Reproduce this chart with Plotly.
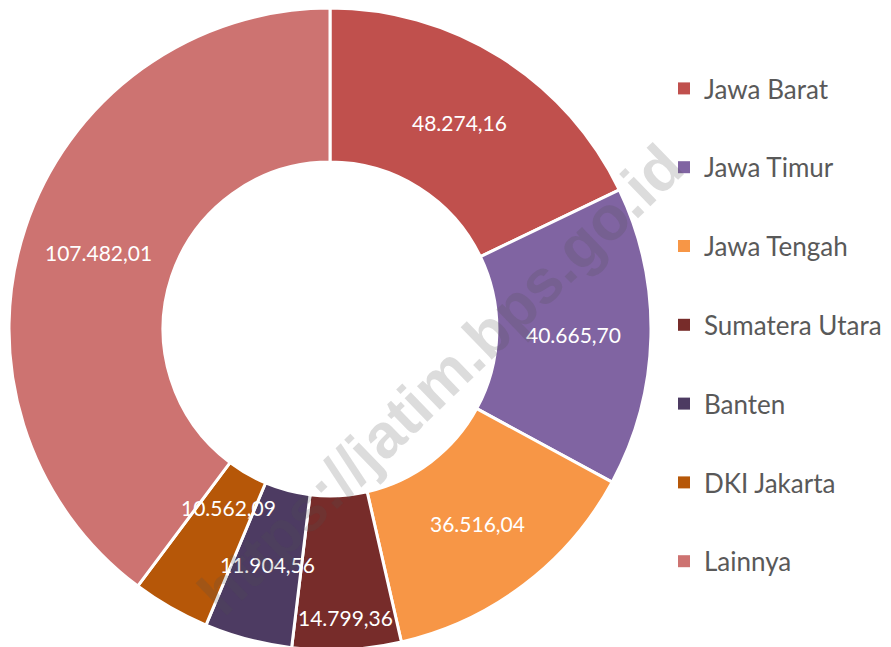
import numpy as np
import plotly.graph_objects as go

provinces = ["Jawa Barat", "Jawa Timur", "Jawa Tengah", "Sumatera Utara", "Banten", "DKI Jakarta", "Lainnya"]
values = [48274.16, 40665.70, 36516.04, 14799.36, 11904.56, 10562.09, 107482.01]
value_labels = ["48.274,16", "40.665,70", "36.516,04", "14.799,36", "11.904,56", "10.562,09", "107.482,01"]
colors = ["#C0504D", "#8064A2", "#F79646", "#772C2A", "#4D3B62", "#B65708", "#CD7371"]

W, H = 891, 647
HOLE = 0.52
# pie placed in layout pixels (page body adds an 8px offset)
dom_x = [1 / W, 643 / W]
dom_y = [5 / H, 1.0]

fig = go.Figure()
fig.add_trace(go.Pie(
    labels=provinces, values=values,
    textinfo="none",
    sort=False, direction="clockwise", rotation=0, hole=HOLE,
    marker=dict(colors=colors, line=dict(color="white", width=3)),
    domain=dict(x=dom_x, y=dom_y),
    showlegend=False, hoverinfo="label+value",
))

# data labels: placed along each slice's bisector (computed from the values)
vals = np.array(values)
frac = vals / vals.sum()
mid = (np.cumsum(frac) - frac / 2) * 2 * np.pi
ring_mid = (1 + HOLE) / 2
label_r = np.array([ring_mid, ring_mid, ring_mid, 0.90, ring_mid, 0.64, ring_mid])
for lx, ly, txt in zip(label_r * np.sin(mid), label_r * np.cos(mid), value_labels):
    fig.add_annotation(
        x=lx, y=ly, xref="x", yref="y", text=txt, showarrow=False,
        xanchor="center", yanchor="middle",
        font=dict(family="Lato", size=21, color="white"),
    )

# invisible anchor so the cartesian axes exist
fig.add_trace(go.Scatter(x=[None], y=[None], mode="markers", showlegend=False, hoverinfo="skip"))

for i, (name, col) in enumerate(zip(provinces, colors)):
    fig.add_trace(go.Scatter(
        x=[None], y=[None], mode="markers", name=name,
        marker=dict(symbol="square", size=11, color=col),
        legendgroup=f"g{i}", showlegend=True,
    ))

fig.add_annotation(
    text="https://jatim.bps.go.id", xref="paper", yref="paper",
    x=432 / W, y=1 - 371 / H, showarrow=False, textangle=-44,
    font=dict(family="Liberation Sans", size=62, color="rgba(80,80,80,0.2)", weight="bold"),
)

fig.update_layout(
    width=W, height=H, margin=dict(l=0, r=0, t=0, b=0),
    paper_bgcolor="white", plot_bgcolor="rgba(0,0,0,0)",
    xaxis=dict(visible=False, domain=dom_x, range=[-1, 1], fixedrange=True),
    yaxis=dict(visible=False, domain=dom_y, range=[-1, 1], fixedrange=True),
    legend=dict(x=656 / W, y=1 - 57 / H, xanchor="left", yanchor="top",
                font=dict(family="Lato", size=26, color="#595959"),
                tracegroupgap=42, itemsizing="constant", bgcolor="rgba(0,0,0,0)"),
)

fig.write_html("out.html")
